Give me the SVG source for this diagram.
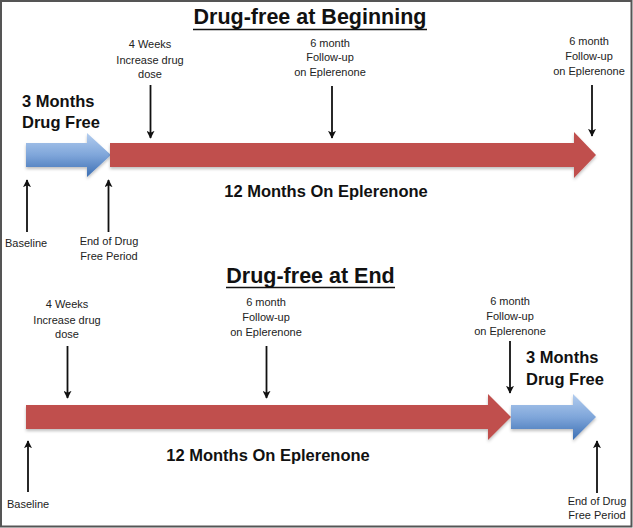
<svg xmlns="http://www.w3.org/2000/svg" width="633" height="528" viewBox="0 0 633 528">
<defs>
<linearGradient id="blueGrad" x1="0" y1="0" x2="0" y2="1">
<stop offset="0" stop-color="#b3cdef"/>
<stop offset="0.5" stop-color="#7fa6da"/>
<stop offset="1" stop-color="#3c6fb3"/>
</linearGradient>
<filter id="shadow" x="-5%" y="-20%" width="110%" height="150%">
<feDropShadow dx="0" dy="2" stdDeviation="1.5" flood-color="#000" flood-opacity="0.25"/>
</filter>
<marker id="head" viewBox="0 0 10 10" refX="9" refY="5" markerWidth="8" markerHeight="8" markerUnits="userSpaceOnUse" orient="auto">
<path d="M0,0 L10,5 L0,10 L2.5,5 Z" fill="#111"/>
</marker>
</defs>
<style>
.title{font-family:"Liberation Sans",Arial,sans-serif;font-weight:bold;font-size:21.5px;fill:#111;text-anchor:middle}
.big{font-family:"Liberation Sans",Arial,sans-serif;font-weight:bold;font-size:16.5px;fill:#111}
.mid{text-anchor:middle}
.small{font-family:"Liberation Sans",Arial,sans-serif;font-size:11px;fill:#222;text-anchor:middle}
.small.start{text-anchor:start}
.ul{stroke:#111;stroke-width:1.6}
.red{fill:#c0504d;filter:url(#shadow)}
.blue{fill:url(#blueGrad);filter:url(#shadow)}
.ptr{stroke:#111;stroke-width:1.8;fill:none;marker-end:url(#head)}
</style>
<rect x="0" y="0" width="633" height="528" fill="#fff"/>
<rect x="1" y="1" width="630.5" height="525.5" fill="none" stroke="#555" stroke-width="2"/>

<g id="title-top">
<text class="title" x="310" y="24">Drug-free at Beginning</text>
<line class="ul" x1="193" y1="29.5" x2="427" y2="29.5"/>
</g>

<g id="top-drugfree">
<polygon class="blue" points="26,143 87,143 87,133 111,155 87,177 87,167 26,167"/>
<text class="big" x="22" y="107">3 Months</text>
<text class="big" x="22" y="128">Drug Free</text>
</g>

<g id="top-eplerenone">
<polygon class="red" points="110,143 574,143 574,132 596,155 574,178 574,167 110,167"/>
<text class="big mid" x="326" y="197">12 Months On Eplerenone</text>
</g>

<g id="top-4weeks">
<text class="small" x="150" y="48">4 Weeks</text>
<text class="small" x="150" y="63.5">Increase drug</text>
<text class="small" x="150" y="78">dose</text>
</g>
<g id="top-6month-a">
<text class="small" x="330" y="46.5">6 month</text>
<text class="small" x="330" y="61">Follow-up</text>
<text class="small" x="330" y="76">on Eplerenone</text>
</g>
<g id="top-6month-b">
<text class="small" x="589" y="44.5">6 month</text>
<text class="small" x="589" y="59.5">Follow-up</text>
<text class="small" x="589" y="74.5">on Eplerenone</text>
</g>
<g id="top-baseline">
<text class="small start" x="5" y="247">Baseline</text>
</g>
<g id="top-end">
<text class="small" x="109" y="245">End of Drug</text>
<text class="small" x="109" y="259.5">Free Period</text>
</g>

<g id="title-bottom">
<text class="title" x="310.5" y="283">Drug-free at End</text>
<line class="ul" x1="226" y1="287.5" x2="395" y2="287.5"/>
</g>

<g id="bottom-eplerenone">
<polygon class="red" points="26,405 488,405 488,394 511,417 488,440 488,429 26,429"/>
<text class="big mid" x="268" y="461">12 Months On Eplerenone</text>
</g>

<g id="bottom-drugfree">
<polygon class="blue" points="511,405 573,405 573,394 596,417 573,440 573,429 511,429"/>
<text class="big" x="526" y="362.5">3 Months</text>
<text class="big" x="526" y="385">Drug Free</text>
</g>

<g id="bottom-4weeks">
<text class="small" x="67" y="308">4 Weeks</text>
<text class="small" x="67" y="323.5">Increase drug</text>
<text class="small" x="67" y="338">dose</text>
</g>
<g id="bottom-6month-a">
<text class="small" x="266" y="305.5">6 month</text>
<text class="small" x="266" y="320.5">Follow-up</text>
<text class="small" x="266" y="335.5">on Eplerenone</text>
</g>
<g id="bottom-6month-b">
<text class="small" x="510" y="305">6 month</text>
<text class="small" x="510" y="320">Follow-up</text>
<text class="small" x="510" y="335">on Eplerenone</text>
</g>
<g id="bottom-baseline">
<text class="small start" x="7" y="508">Baseline</text>
</g>
<g id="bottom-end">
<text class="small" x="597" y="505">End of Drug</text>
<text class="small" x="597" y="518.5">Free Period</text>
</g>

<g id="connectors">
<line class="ptr" x1="150.5" y1="85" x2="150.5" y2="138"/>
<line class="ptr" x1="332" y1="86" x2="332" y2="138"/>
<line class="ptr" x1="592" y1="85" x2="592" y2="136"/>
<line class="ptr" x1="27" y1="232" x2="27" y2="180"/>
<line class="ptr" x1="108.5" y1="232" x2="108.5" y2="180"/>
<line class="ptr" x1="67.5" y1="346" x2="67.5" y2="398"/>
<line class="ptr" x1="266.5" y1="346" x2="266.5" y2="398"/>
<line class="ptr" x1="510" y1="341" x2="510" y2="393"/>
<line class="ptr" x1="28" y1="492" x2="28" y2="441"/>
<line class="ptr" x1="597" y1="493" x2="597" y2="441"/>
</g>
</svg>
